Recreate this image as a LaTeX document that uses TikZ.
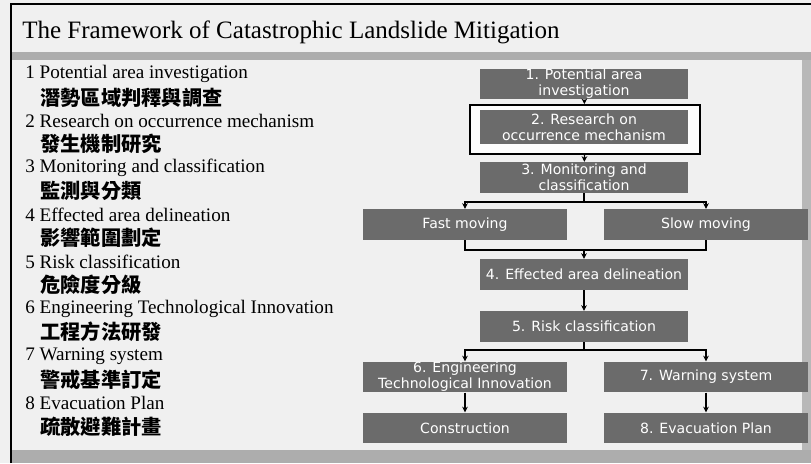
\documentclass[tikz,border=0pt]{standalone}
\usepackage{fontspec}
\setmainfont{Liberation Serif}
\newfontfamily\boxfont{DejaVu Sans}
\newfontfamily\cjkfont{Noto Sans CJK TC}
\usepackage{tikz}
\usetikzlibrary{arrows.meta}

\tikzset{
  stepbox/.style={draw=none, fill=black!58, text=white, align=center,
    inner sep=0pt, minimum height=0.77cm, font=\boxfont\fontsize{10}{11.3}\selectfont},
  midbox/.style={stepbox, minimum width=5.22cm},
  sidebox/.style={stepbox, minimum width=5.12cm},
  frame/.style={draw=black, line width=1.4pt, fill=white!85!black!5,
    minimum width=5.75cm, minimum height=1.22cm, inner sep=0pt},
  link/.style={line width=0.9pt},
  arr/.style={link, -{Stealth[length=4pt,width=4pt]}},
  eng/.style={anchor=west, inner sep=0pt, font=\fontsize{13.6}{16}\selectfont},
  chn/.style={anchor=west, inner sep=0pt, font=\cjkfont\bfseries\fontsize{14.4}{16}\selectfont}
}

\begin{document}
\begin{tikzpicture}[x=0.025cm, y=-0.025cm]
		%%%%% background %%%%%
		\useasboundingbox (0, 0) rectangle (811, 463);
		\fill[black!6] (0, 0) rectangle (811, 463);
		\fill[black!32] (12, 52) rectangle (811, 60);
		\fill[black!32] (12, 450) rectangle (811, 463);
		\fill[black!28] (802, 60) rectangle (811, 450);
		\draw[line width=1.2pt] (11, 463) -- (11, 4) -- (811, 4);
		
		%%%%% title %%%%%
		\node[anchor=base west, inner sep=0pt, font=\fontsize{17.8}{20}\selectfont] (title) at (22, 38) {The Framework of Catastrophic Landslide Mitigation};
		
		%%%%% list %%%%%
		\node[eng] (e1) at (25, 74) {1 Potential area investigation};
		\node[chn] (c1) at (40, 98) {潛勢區域判釋與調查};
		\node[eng] (e2) at (25, 121) {2 Research on occurrence mechanism};
		\node[chn] (c2) at (40, 144) {發生機制研究};
		\node[eng] (e3) at (25, 168) {3 Monitoring and classification};
		\node[chn] (c3) at (40, 191) {監測與分類};
		\node[eng] (e4) at (25, 215) {4 Effected area delineation};
		\node[chn] (c4) at (40, 238) {影響範圍劃定};
		\node[eng] (e5) at (25, 262) {5 Risk classification};
		\node[chn] (c5) at (40, 285) {危險度分級};
		\node[eng] (e6) at (25, 309) {6 Engineering Technological Innovation};
		\node[chn] (c6) at (40, 332) {工程方法研發};
		\node[eng] (e7) at (25, 356) {7 Warning system};
		\node[chn] (c7) at (40, 380) {警戒基準訂定};
		\node[eng] (e8) at (25, 403) {8 Evacuation Plan};
		\node[chn] (c8) at (40, 427) {疏散避難計畫};
		
		%%%%% flow chart %%%%%
		\node[frame] (f2) at (585, 129.5) {};
		\node[midbox] (b1) at (584, 84) {1. Potential area\\investigation};
		\node[midbox, minimum height=0.83cm] (b2) at (584, 127) {2. Research on\\occurrence mechanism};
		\node[midbox] (b3) at (584, 177.5) {3. Monitoring and\\classification};
		\node[sidebox] (fast) at (465, 224.5) {Fast moving};
		\node[sidebox] (slow) at (706, 224.5) {Slow moving};
		\node[midbox] (b4) at (584, 274.5) {4. Effected area delineation};
		\node[midbox] (b5) at (584, 326.5) {5. Risk classification};
		\node[sidebox] (b6) at (465, 377) {6. Engineering\\Technological Innovation};
		\node[sidebox] (b7) at (706, 377) {7. Warning system};
		\node[sidebox] (cons) at (465, 428) {Construction};
		\node[sidebox] (b8) at (706, 428) {8. Evacuation Plan};
		
		\coordinate (j1) at (584, 202);
		\coordinate (j2) at (584, 250);
		\coordinate (j3) at (584, 350);
		
		\draw[arr] (b1) -- (f2);
		\draw[arr] (f2) -- (b3);
		\draw[link] (b3) -- (j1);
		\draw[arr] (j1) -| (fast);
		\draw[arr] (j1) -| (slow);
		\draw[link] (fast) |- (j2);
		\draw[link] (slow) |- (j2);
		\draw[arr] (j2) -- (b4);
		\draw[arr] (b4) -- (b5);
		\draw[link] (b5) -- (j3);
		\draw[arr] (j3) -| (b6);
		\draw[arr] (j3) -| (b7);
		\draw[arr] (b6) -- (cons);
		\draw[arr] (b7) -- (b8);
	\end{tikzpicture}
\end{document}
